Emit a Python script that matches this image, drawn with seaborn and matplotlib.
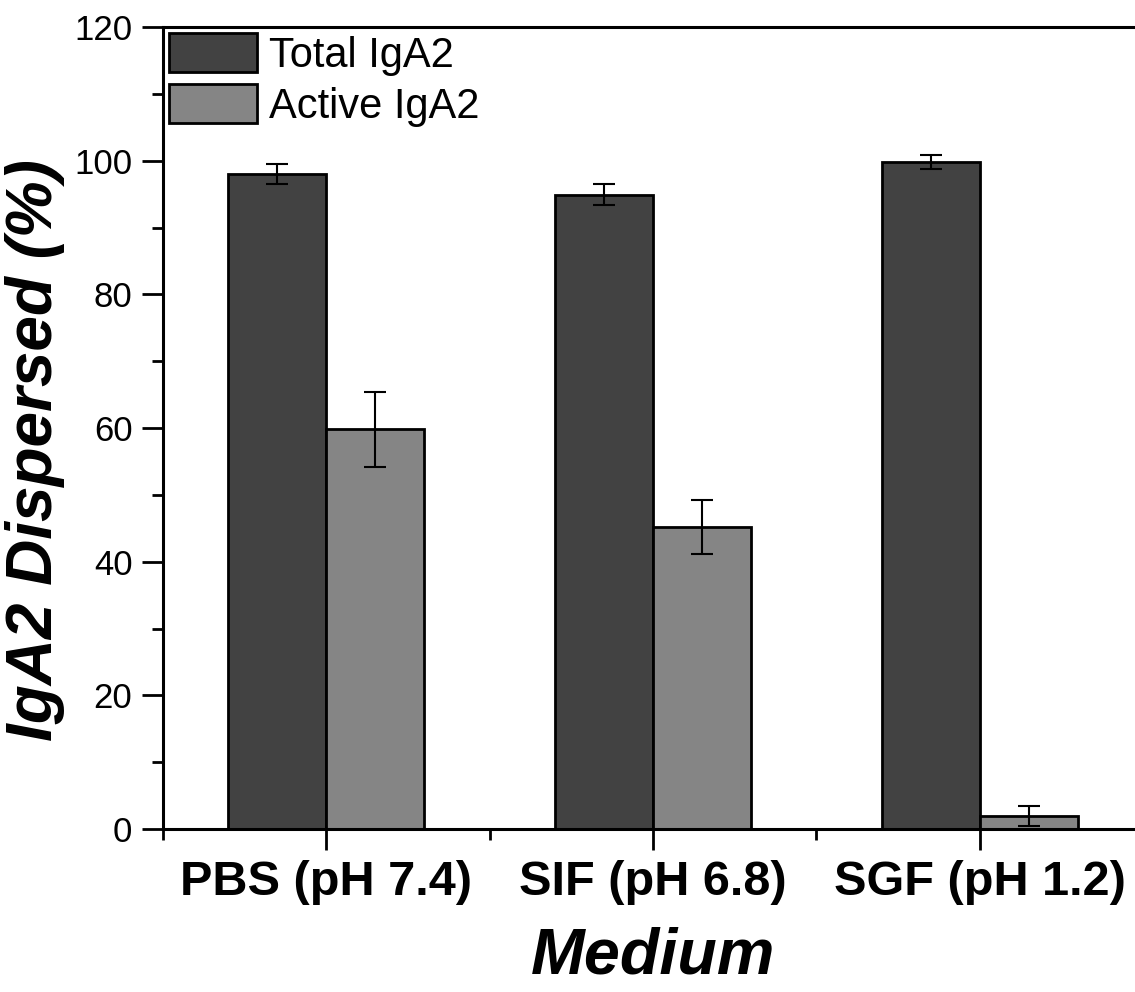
import matplotlib
matplotlib.use("Agg")
import matplotlib.pyplot as plt
from matplotlib.ticker import MultipleLocator, FixedLocator
import seaborn as sns
import pandas as pd
import numpy as np

# data
media = ["PBS (pH 7.4)", "SIF (pH 6.8)", "SGF (pH 1.2)"]
total_iga2 = [98.0, 94.9, 99.8]
total_err = [1.5, 1.6, 1.0]
active_iga2 = [59.8, 45.2, 2.0]
active_err = [5.6, 4.0, 1.5]
series = ["Total IgA2", "Active IgA2"]
colors = ["#424242", "#858585"]

df = pd.DataFrame({
    "Medium": media * 2,
    "Value": total_iga2 + active_iga2,
    "Err": total_err + active_err,
    "Type": [series[0]] * 3 + [series[1]] * 3,
})

sns.set_style("ticks")
plt.rcParams['font.family'] = ['Liberation Sans', 'DejaVu Sans']
plt.rcParams['text.color'] = 'black'
plt.rcParams['axes.labelcolor'] = 'black'
plt.rcParams['xtick.color'] = 'black'
plt.rcParams['ytick.color'] = 'black'

W, H = 1135, 992
fig = plt.figure(figsize=(W / 100, H / 100), dpi=100)
ax = fig.add_axes([163 / W, (H - 829) / H, (1143 - 163) / W, (829 - 27) / H])

sns.barplot(data=df, x="Medium", y="Value", hue="Type", palette=colors,
            width=0.6, gap=0, errorbar=None, edgecolor="black", linewidth=2,
            ax=ax, zorder=2)

# error bars at the centre of every bar
for cont, (name, grp) in zip(ax.containers, df.groupby("Type", sort=False)):
    xs = [p.get_x() + p.get_width() / 2 for p in cont.patches]
    ax.errorbar(xs, grp["Value"].values, yerr=grp["Err"].values, fmt="none",
                ecolor="black", elinewidth=1.5, capsize=8, capthick=1.5, zorder=3)

ax.set_xlim(-0.5, 2.5)
ax.set_ylim(0, 120)
ax.yaxis.set_major_locator(MultipleLocator(20))
ax.yaxis.set_minor_locator(MultipleLocator(10))
ax.xaxis.set_minor_locator(FixedLocator([-0.5, 0.5, 1.5, 2.5]))

for s in ["left", "bottom", "top", "right"]:
    ax.spines[s].set_linewidth(2.2)
    ax.spines[s].set_color("black")

ax.tick_params(axis="both", which="major", direction="out", length=15, width=2, color="black")
ax.tick_params(axis="both", which="minor", direction="out", length=8, width=2, color="black")
ax.tick_params(axis="y", labelsize=25, pad=7)
ax.tick_params(axis="x", labelsize=35, pad=7)
for lab in ax.get_xticklabels():
    lab.set_fontweight("bold")

ax.set_xlabel("Medium", fontsize=46.5, fontweight="bold", fontstyle="italic", labelpad=16)
ax.set_ylabel("IgA2 Dispersed (%)", fontsize=46, fontweight="bold", fontstyle="italic", labelpad=10)
ax.yaxis.set_label_coords(-0.1, 0.4726)

ax.legend(loc="upper left", frameon=False, fontsize=30, handlelength=2.1, handleheight=1.05,
          handletextpad=0.3, labelspacing=0.2, borderaxespad=0.15, borderpad=0.0)

fig.savefig("out.png", dpi=100)
